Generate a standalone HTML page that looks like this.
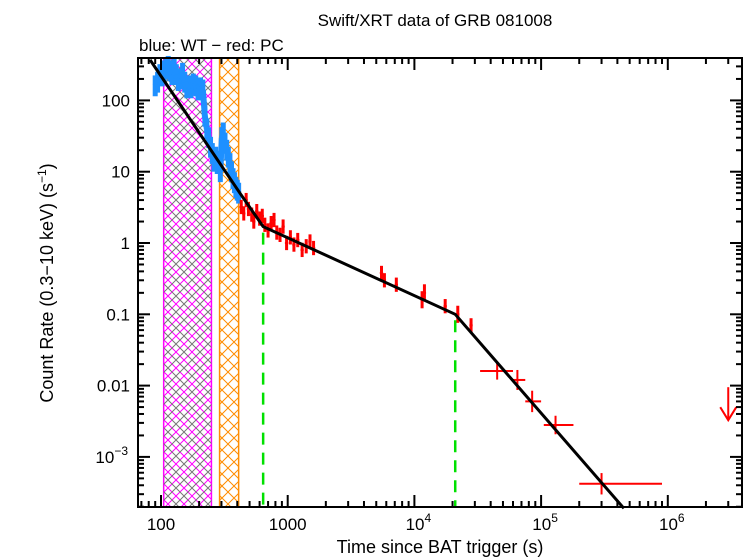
<!DOCTYPE html>
<html><head><meta charset="utf-8"><style>
body{margin:0;background:#fff}
svg{display:block;font-family:"Liberation Sans",sans-serif}
</style></head><body>
<svg id="c" width="749" height="558">
<defs>
<pattern id="hm" width="16" height="16" patternUnits="userSpaceOnUse"><path d="M0 0L16 16M16 0L0 16" stroke="#ff00ff" stroke-width="1"/></pattern>
<pattern id="hg" width="16" height="16" patternUnits="userSpaceOnUse" patternTransform="translate(8 0)"><path d="M0 0L16 16M16 0L0 16" stroke="#777" stroke-width="1"/></pattern>
<pattern id="ho" width="12" height="12" patternUnits="userSpaceOnUse"><path d="M0 0L12 12M12 0L0 12" stroke="#ff8c00" stroke-width="1"/></pattern>
</defs>
<text x="435" y="26" font-size="17" text-anchor="middle">Swift/XRT data of GRB 081008</text>
<text x="139" y="51" font-size="17">blue: WT − red: PC</text>
<text x="440" y="553" font-size="18" text-anchor="middle">Time since BAT trigger (s)</text>
<text transform="translate(53 283) rotate(-90)" font-size="18" text-anchor="middle">Count Rate (0.3−10 keV) (s<tspan font-size="12" dy="-7">−1</tspan><tspan dy="7">)</tspan></text>
<g id="g"></g>
</svg>
<script>
const xTickVals=[100,1000,1e4,1e5,1e6];
const xTickLabels=["100","1000","10^4","10^5","10^6"];
const yTickVals=[100,10,1,0.1,0.01,0.001];
const yTickLabels=["100","10","1","0.1","0.01","10^-3"];
const modelT=[82,420,640,21000,450000];
const modelR=[370,5,1.7,0.1,0.00019];
const breakTimes=[640,21000];
const wtT=[90,94,98,102,106,110,114,118,122,127,132,137,142,148,154,160,166,172,180,188,196,205,214,222,230,238,246,254,262,270,278,286,294,302,310,320,330,340,350,360,370,380,390,400,410];
const wtR=[160,180,230,220,260,280,300,260,230,280,230,190,200,240,180,150,160,150,170,160,140,150,140,60,40,30,22,18,14,16,13,14,10,30,35,25,20,16,13,10,8,7,6,5.5,5];
const pcT=[430,450,470,490,520,540,570,600,630,660,700,740,780,820,870,920,980,1050,1120,1200,1300,1400,1500,1600,5500,5800,7200,11500,12000,17500,22000,28000];
const pcR=[3.2,2.6,4.0,3.0,2.5,2.0,2.8,2.2,2.4,1.8,1.5,1.9,2.1,1.4,1.3,1.7,1.0,1.2,0.95,1.1,0.8,0.9,1.05,0.85,0.38,0.3,0.26,0.16,0.2,0.13,0.1,0.07];
const pcErr=[0.1,0.1,0.1,0.1,0.1,0.1,0.1,0.1,0.1,0.1,0.1,0.1,0.1,0.1,0.1,0.1,0.1,0.1,0.1,0.1,0.1,0.1,0.1,0.1,0.1,0.1,0.1,0.12,0.12,0.1,0.12,0.1];
const binT=[45000,65000,85000,130000,300000];
const binR=[0.016,0.012,0.006,0.0028,0.00042];
const binLo=[33000,58000,75000,105000,200000];
const binHi=[60000,75000,100000,180000,900000];
const binErr=[0.12,0.14,0.15,0.13,0.15];
const ulT=[3000000];const ulR=[0.0095];
const regions=[[105,250,"hm"],[290,410,"ho"]];

const L=138,R=742,T=58,B=507;
const X=t=>161+(Math.log10(t)-2)*126.7;
const Y=r=>243-Math.log10(r)*71.3;
const g=document.getElementById('g');
const NS="http://www.w3.org/2000/svg";
function el(tag,attrs,name){const e=document.createElementNS(NS,tag);for(const k in attrs)e.setAttribute(k,attrs[k]);


g.appendChild(e);return e;}
regions.forEach((r,i)=>{
  el('rect',{x:X(r[0]),y:T,width:X(r[1])-X(r[0]),height:B-T,fill:"url(#"+r[2]+")",stroke:r[2]=="hm"?"#ff00ff":"#ff8c00","stroke-width":1.5},'flare-region-'+i);
  if(r[2]=="hm") el('rect',{x:X(r[0]),y:T,width:X(r[1])-X(r[0]),height:B-T,fill:"url(#hg)"},'flare-region-grey-hatch');
});
wtT.forEach((t,i)=>{const r=wtR[i];
  el('line',{x1:X(t),x2:X(t),y1:Y(r*1.4),y2:Y(r/1.4),stroke:"#1e90ff","stroke-width":5},'wt-point');});
for(let i=0;i<wtT.length-1;i++) el('line',{x1:X(wtT[i]),y1:Y(wtR[i]),x2:X(wtT[i+1]),y2:Y(wtR[i+1]),stroke:"#1e90ff","stroke-width":6},'wt-band');
pcT.forEach((t,i)=>{const r=pcR[i],f=Math.pow(10,pcErr[i]);
  el('line',{x1:X(t),x2:X(t),y1:Y(r*f),y2:Y(r/f),stroke:"#f00","stroke-width":3},'pc-point');
  el('line',{x1:X(t*0.97),x2:X(t*1.03),y1:Y(r),y2:Y(r),stroke:"#f00","stroke-width":2},'pc-point-xerr');});
binT.forEach((t,i)=>{const r=binR[i],f=Math.pow(10,binErr[i]);
  el('line',{x1:X(t),x2:X(t),y1:Y(r*f),y2:Y(r/f),stroke:"#f00","stroke-width":2},'pc-bin-yerr');
  el('line',{x1:X(binLo[i]),x2:X(binHi[i]),y1:Y(r),y2:Y(r),stroke:"#f00","stroke-width":2},'pc-bin-xerr');});
ulT.forEach((t,i)=>{const x=X(t),y=Y(ulR[i]);
  el('line',{x1:x,x2:x,y1:y,y2:y+33,stroke:"#f00","stroke-width":2},'upper-limit');
  el('path',{d:`M${x-8} ${y+20}L${x} ${y+33}L${x+8} ${y+20}`,fill:"none",stroke:"#f00","stroke-width":2},'upper-limit-arrow');});
el('polyline',{points:modelT.map((t,i)=>X(t)+","+Y(modelR[i])).join(" "),fill:"none",stroke:"#000","stroke-width":3},'model-fit');
breakTimes.forEach((t,i)=>{
  el('line',{x1:X(t),x2:X(t),y1:Y(modelR[i+2])+6,y2:B,stroke:"#00e000","stroke-width":2.5,"stroke-dasharray":"12,8"},'break-line-'+i);});
el('rect',{x:L,y:T,width:R-L,height:B-T,fill:"none",stroke:"#000","stroke-width":2},'plot-frame');
for(let d=1;d<=6;d++)for(let m=1;m<10;m++){const t=m*Math.pow(10,d);const x=X(t);if(x<L||x>R)continue;const len=m==1?12:6;
  el('line',{x1:x,x2:x,y1:B,y2:B-len,stroke:"#000","stroke-width":2},'x-tick');
  el('line',{x1:x,x2:x,y1:T,y2:T+len,stroke:"#000","stroke-width":2},'x-tick-top');}
for(let d=-4;d<=2;d++)for(let m=1;m<10;m++){const r=m*Math.pow(10,d);const y=Y(r);if(y<T||y>B)continue;const len=m==1?12:6;
  el('line',{x1:L,x2:L+len,y1:y,y2:y,stroke:"#000","stroke-width":2},'y-tick');
  el('line',{x1:R,x2:R-len,y1:y,y2:y,stroke:"#000","stroke-width":2},'y-tick-right');}
function lab(txt,x,y,anchor,name){const t=el('text',{x:x,y:y,"font-size":17,"text-anchor":anchor},name);
  if(txt.includes('^')){const [a,b]=txt.split('^');t.textContent=a;const s=document.createElementNS(NS,'tspan');s.setAttribute('font-size','12');s.setAttribute('dy','-8');s.textContent=b.replace('-','−');t.appendChild(s);}else t.textContent=txt;}
xTickVals.forEach((v,i)=>lab(xTickLabels[i],X(v)+(xTickLabels[i].includes('^')?4:0),530,"middle",'x-tick-label'));
yTickVals.forEach((v,i)=>lab(yTickLabels[i],yTickLabels[i].includes('^')?128:130,Y(v)+6,"end",'y-tick-label'));
</script>
</body></html>
